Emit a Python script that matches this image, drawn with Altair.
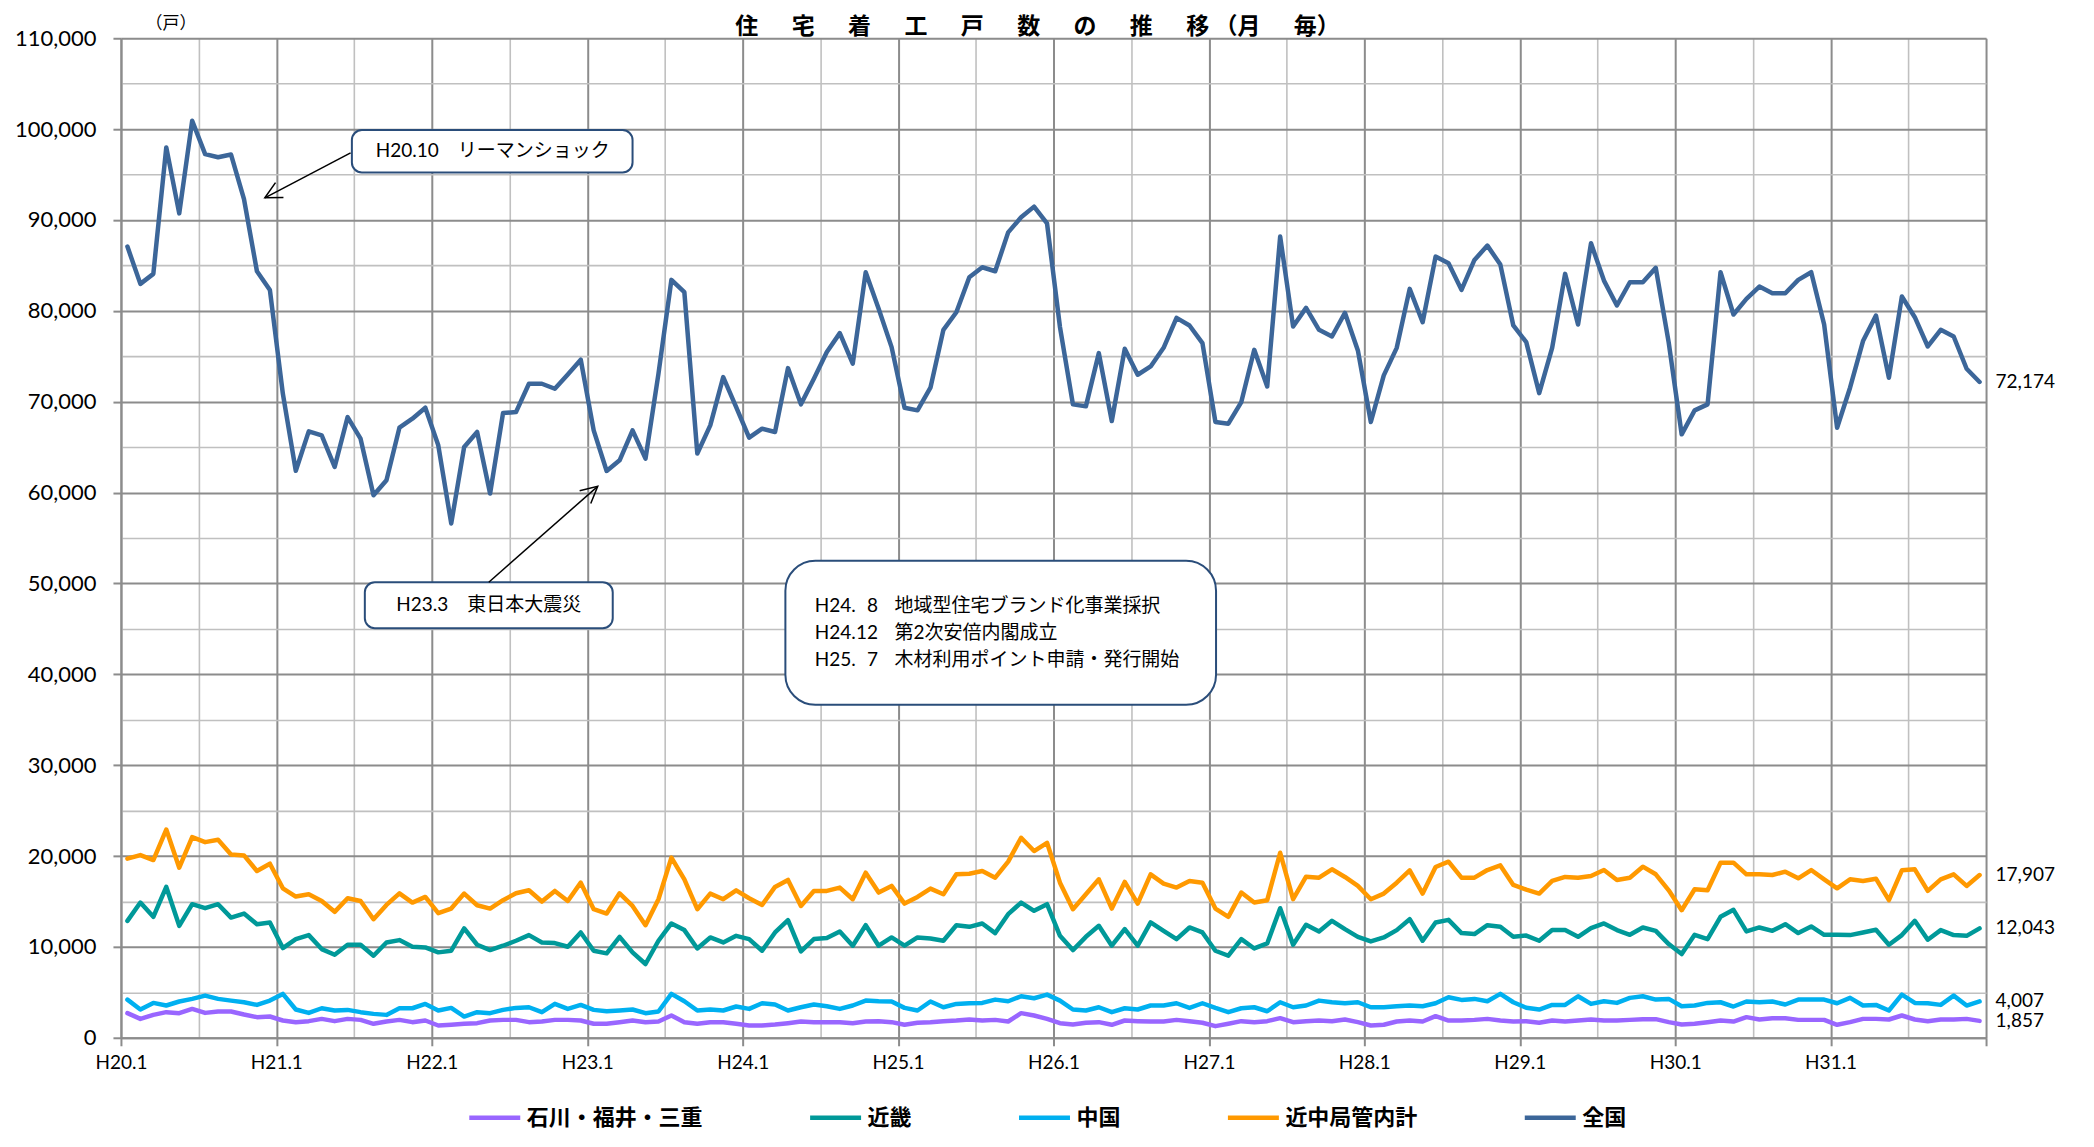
import json
import altair as alt
import pandas as pd

# ---------------- data ----------------
series_names = ["石川・福井・三重", "近畿", "中国", "近中局管内計", "全国"]
series_colors = ["#9966ff", "#009999", "#00b0f0", "#ff9900", "#3c6699"]
series_widths = [4.5, 4.5, 4.5, 4.5, 5.5]

x_tick_labels = ["H20.1", "H21.1", "H22.1", "H23.1", "H24.1", "H25.1",
                 "H26.1", "H27.1", "H28.1", "H29.1", "H30.1", "H31.1"]

# monthly values, H20.1 (Jan 2008) ... H31.12 (Dec 2019)
ishikawa = [
    2710, 2080, 2520, 2820, 2710, 3180, 2740, 2890, 2890, 2560, 2270, 2340,
    1900, 1720, 1830, 2080, 1830, 2080, 1970, 1540, 1790, 1970, 1720, 1900,
    1350, 1430, 1540, 1610, 1900, 1970, 1970, 1720, 1790, 1970, 1970, 1900,
    1540, 1540, 1720, 1900, 1720, 1790, 2450, 1720, 1540, 1720, 1720, 1540,
    1350, 1350, 1460, 1610, 1790, 1720, 1720, 1720, 1610, 1790, 1830, 1720,
    1430, 1650, 1720, 1830, 1900, 2010, 1900, 1970, 1790, 2710, 2450, 2080,
    1610, 1460, 1650, 1720, 1430, 1900, 1830, 1790, 1790, 1970, 1830, 1650,
    1280, 1540, 1830, 1720, 1830, 2160, 1720, 1830, 1900, 1830, 2010, 1720,
    1350, 1430, 1790, 1900, 1790, 2380, 1900, 1900, 1970, 2080, 1900, 1790,
    1810, 1650, 1900, 1790, 1900, 2010, 1900, 1900, 1970, 2050, 2050, 1720,
    1460, 1540, 1720, 1900, 1790, 2270, 2010, 2160, 2160, 1970, 1970, 1970,
    1430, 1720, 2080, 2080, 2010, 2450, 2010, 1830, 2010, 2010, 2080, 1857,
]
kinki = [
    12870, 14880, 13310, 16600, 12320, 14700, 14260, 14700, 13230, 13670, 12500, 12690,
    9870, 10860, 11300, 9760, 9140, 10240, 10240, 9030, 10490, 10750, 10020, 9940,
    9400, 9580, 12030, 10240, 9650, 10130, 10680, 11300, 10490, 10420, 10020, 11590,
    9580, 9290, 11110, 9400, 8120, 10680, 12580, 11850, 9830, 11040, 10490, 11220,
    10860, 9580, 11590, 12940, 9510, 10860, 10970, 11700, 10130, 12390, 10130, 11040,
    10130, 11040, 10930, 10680, 12390, 12210, 12580, 11520, 13600, 14880, 13970, 14700,
    11220, 9650, 11110, 12320, 10130, 11960, 10130, 12690, 11770, 10860, 12140, 11590,
    9580, 9030, 10860, 9830, 10380, 14260, 10240, 12430, 11700, 12870, 11960, 11110,
    10600, 11040, 11850, 13050, 10680, 12690, 12980, 11520, 11410, 12390, 12210, 11110,
    11250, 10680, 11850, 11850, 11110, 12060, 12580, 11850, 11330, 12140, 11770, 10310,
    9210, 11330, 10860, 13310, 14080, 11700, 12140, 11770, 12500, 11520, 12250, 11330,
    11330, 11300, 11590, 11880, 10240, 11300, 12870, 10790, 11850, 11300, 11220, 12043,
]
chugoku = [
    4200, 3110, 3840, 3550, 3990, 4280, 4640, 4280, 4090, 3910, 3620, 4090,
    4830, 3110, 2740, 3250, 3000, 3070, 2820, 2630, 2520, 3250, 3250, 3730,
    3000, 3290, 2340, 2820, 2710, 3070, 3290, 3360, 2820, 3730, 3180, 3620,
    3070, 2920, 3000, 3110, 2710, 2890, 4830, 4020, 3000, 3110, 3000, 3440,
    3180, 3800, 3660, 3000, 3360, 3660, 3470, 3180, 3550, 4090, 4020, 3990,
    3290, 3000, 3990, 3360, 3730, 3800, 3840, 4200, 4020, 4570, 4350, 4750,
    4090, 3110, 3000, 3360, 2820, 3250, 3110, 3550, 3550, 3800, 3290, 3800,
    3290, 2820, 3250, 3360, 2920, 3910, 3360, 3550, 4090, 3910, 3800, 3910,
    3360, 3360, 3470, 3550, 3470, 3800, 4460, 4170, 4280, 4020, 4830, 3910,
    3300, 3110, 3620, 3620, 4570, 3730, 4020, 3840, 4390, 4570, 4200, 4280,
    3470, 3550, 3840, 3910, 3440, 3990, 3910, 3990, 3660, 4200, 4200, 4200,
    3800, 4390, 3550, 3620, 3000, 4750, 3840, 3800, 3620, 4640, 3550, 4007,
]
kinchu = [
    19710, 20110, 19560, 22920, 18720, 22080, 21530, 21790, 20180, 20070, 18350, 19160,
    16450, 15540, 15790, 15060, 13860, 15360, 15060, 13050, 14620, 15900, 14880, 15500,
    13710, 14220, 15870, 14590, 14220, 15140, 15900, 16230, 14990, 16160, 15060, 17070,
    14150, 13670, 15900, 14510, 12390, 15250, 19820, 17440, 14150, 15870, 15250, 16230,
    15360, 14620, 16600, 17370, 14510, 16160, 16160, 16530, 15250, 18170, 15980, 16710,
    14770, 15500, 16420, 15790, 17990, 18060, 18350, 17620, 19380, 22010, 20550, 21460,
    17070, 14150, 15790, 17440, 14220, 17150, 14770, 17990, 16960, 16530, 17260, 17070,
    14220, 13310, 15980, 14880, 15140, 20360, 15250, 17730, 17620, 18540, 17700, 16710,
    15250, 15870, 17070, 18430, 15870, 18790, 19380, 17620, 17620, 18460, 18970, 16820,
    16300, 15870, 17260, 17700, 17620, 17800, 18460, 17370, 17620, 18830, 17990, 16230,
    14040, 16340, 16230, 19270, 19270, 17990, 17990, 17910, 18280, 17550, 18460, 17440,
    16450, 17440, 17260, 17510, 15140, 18430, 18540, 16160, 17440, 17990, 16710, 17907,
]
zenkoku = [
    87070, 82970, 84070, 97990, 90730, 100920, 97250, 96900, 97200, 92300, 84360, 82300,
    70880, 62400, 66740, 66300, 62820, 68300, 65930, 59700, 61350, 67140, 68130, 69340,
    65200, 56600, 65020, 66670, 59890, 68750, 68860, 71980, 71980, 71430, 73000, 74620,
    66850, 62380, 63550, 66850, 63740, 73080, 83410, 82050, 64300, 67400, 72710, 69410,
    66040, 67030, 66670, 73700, 69710, 72530, 75460, 77550, 74180, 84250, 80220, 76010,
    69340, 69050, 71540, 77910, 79850, 83700, 84800, 84360, 88640, 90300, 91470, 89630,
    78210, 69710, 69490, 75350, 67880, 75820, 72970, 73880, 75930, 79230, 78390, 76450,
    67770, 67580, 69960, 75710, 71680, 88170, 78280, 80330, 77910, 77180, 79780, 75640,
    67770, 72900, 75930, 82420, 78750, 85970, 85240, 82310, 85600, 87180, 85090, 78390,
    76560, 70950, 75930, 84070, 78500, 87440, 83330, 80590, 83150, 83150, 84730, 76500,
    66410, 69050, 69710, 84250, 79600, 81320, 82670, 81940, 81940, 83410, 84250, 78500,
    67140, 71540, 76670, 79490, 72640, 81580, 79300, 76080, 77910, 77180, 73630, 72174,
]

title_text = "住 　 宅 　 着 　 工 　 戸 　 数 　 の 　 推 　 移 （月 　 毎）"
unit_text = "（戸）"

box_notes = ["H20.10　リーマンショック", "H23.3　東日本大震災"]
policy_dates = ["H24.", "H24.", "H25."]
policy_months = ["8", "12", "7"]
policy_events = ["地域型住宅ブランド化事業採択", "第2次安倍内閣成立", "木材利用ポイント申請・発行開始"]

# ---------------- tables ----------------
all_series = [ishikawa, kinki, chugoku, kinchu, zenkoku]
rows = []
for name, vals in zip(series_names, all_series):
    for i, v in enumerate(vals):
        rows.append({"series": name, "x": i + 0.5, "y": v})
df = pd.DataFrame(rows)

end_df = pd.DataFrame({
    "x": [len(v) - 0.5 for v in all_series],
    "y": [v[-1] for v in all_series],
    "label": [f"{v[-1]:,}" for v in all_series],
})

N_MONTHS = 144
Y_MAX = 110000

LATIN = "Lato, 'Noto Sans CJK JP'"
CJK = "'Noto Sans CJK JP'"
GRID_DARK = "#8c8c8c"
GRID_LIGHT = "#c0c0c0"
BOX_BLUE = "#2a4d7a"

label_arr = json.dumps(x_tick_labels)
x_axis = alt.Axis(
    values=list(range(0, N_MONTHS + 1, 6)),
    labelExpr=f"datum.value % 12 === 0 && datum.value < {N_MONTHS} ? {label_arr}[datum.value / 12] : ''",
    title=None,
    grid=True,
    gridColor={"condition": {"test": "datum.value % 12 === 0", "value": GRID_DARK}, "value": GRID_LIGHT},
    gridWidth={"condition": {"test": "datum.value % 12 === 0", "value": 2}, "value": 1.6},
    tickColor={"condition": {"test": "datum.value % 12 === 0", "value": GRID_DARK}, "value": "transparent"},
    tickSize=8, tickWidth=2,
    domainColor=GRID_DARK, domainWidth=2,
    labelFont=LATIN, labelFontSize=19, labelColor="#000000", labelPadding=8,
    labelFlush=False, labelOverlap=False,
)
y_axis = alt.Axis(
    values=list(range(0, Y_MAX + 1, 5000)),
    labelExpr="datum.value % 10000 === 0 ? format(datum.value, ',') : ''",
    title=None,
    grid=True,
    gridColor={"condition": {"test": "datum.value % 10000 === 0", "value": GRID_DARK}, "value": GRID_LIGHT},
    gridWidth={"condition": {"test": "datum.value % 10000 === 0", "value": 2}, "value": 1.6},
    tickColor={"condition": {"test": "datum.value % 10000 === 0", "value": GRID_DARK}, "value": "transparent"},
    tickSize=8, tickWidth=2,
    domainColor=GRID_DARK, domainWidth=2,
    labelFont=LATIN, labelFontSize=22, labelColor="#000000", labelPadding=17,
    labelOverlap=False,
)

x_scale = alt.Scale(domain=[0, N_MONTHS], nice=False, zero=False)
y_scale = alt.Scale(domain=[0, Y_MAX], nice=False)

lines = alt.Chart(df).mark_line(strokeJoin="round", strokeCap="round").encode(
    x=alt.X("x:Q", scale=x_scale, axis=x_axis),
    y=alt.Y("y:Q", scale=y_scale, axis=y_axis),
    color=alt.Color(
        "series:N",
        scale=alt.Scale(domain=series_names, range=series_colors),
        legend=alt.Legend(
            orient="none", legendX=346, legendY=1052, direction="horizontal",
            columns=5, title=None, symbolType="stroke", symbolSize=2600,
            symbolStrokeWidth=5, labelFont=CJK, labelFontSize=22,
            labelFontWeight="bold", labelColor="#000000", columnPadding=97,
            labelOffset=4, labelLimit=400,
        ),
    ),
    strokeWidth=alt.StrokeWidth(
        "series:N", scale=alt.Scale(domain=series_names, range=series_widths), legend=None
    ),
)

end_labels = alt.Chart(end_df).mark_text(
    align="left", baseline="middle", dx=16, font=LATIN, fontSize=19, color="#000000"
).encode(x="x:Q", y="y:Q", text="label:N")

# ---- annotations (positions in data units: months / 戸) ----
small_boxes = pd.DataFrame({
    "x": [17.83, 18.83], "x2": [39.5, 37.97],
    "y": [99900, 50130], "y2": [95230, 45070],
})
box_small = alt.Chart(small_boxes).mark_rect(
    cornerRadius=10, fill="#ffffff", stroke=BOX_BLUE, strokeWidth=2
).encode(x="x:Q", x2="x2:Q", y="y:Q", y2="y2:Q")

big_box = pd.DataFrame({"x": [51.3], "x2": [84.55], "y": [52500], "y2": [36650]})
box_big = alt.Chart(big_box).mark_rect(
    cornerRadius=30, fill="#ffffff", stroke=BOX_BLUE, strokeWidth=2
).encode(x="x:Q", x2="x2:Q", y="y:Q", y2="y2:Q")

box_text_df = pd.DataFrame({"x": [28.7, 28.4], "y": [97560, 47600], "t": box_notes})
box_text = alt.Chart(box_text_df).mark_text(
    align="center", baseline="middle", font=LATIN, fontSize=19, color="#000000"
).encode(x="x:Q", y="y:Q", text="t:N")

line_ys = [47500, 44550, 41600]
pol_left = pd.DataFrame({
    "x": [53.56] * 3 + [59.73] * 3,
    "y": line_ys + line_ys,
    "t": policy_dates + policy_events,
})
pol_left_text = alt.Chart(pol_left).mark_text(
    align="left", baseline="middle", font=LATIN, fontSize=19, color="#000000"
).encode(x="x:Q", y="y:Q", text="t:N")
pol_right = pd.DataFrame({"x": [58.45] * 3, "y": line_ys, "t": policy_months})
pol_right_text = alt.Chart(pol_right).mark_text(
    align="right", baseline="middle", font=LATIN, fontSize=19, color="#000000"
).encode(x="x:Q", y="y:Q", text="t:N")

arrows = pd.DataFrame({
    "x": [17.73, 28.4], "y": [97390, 50130],
    "x2": [11.11, 36.81], "y2": [92440, 60690],
    "angle": [242, 49],
})
arrow_lines = alt.Chart(arrows).mark_rule(color="#000000", strokeWidth=1.5).encode(
    x="x:Q", y="y:Q", x2="x2:Q", y2="y2:Q"
)
arrow_heads = alt.Chart(arrows).mark_point(
    shape="M-0.51,1L0,0L0.51,1", filled=False, size=1100, strokeWidth=1.5, color="#000000", opacity=1
).encode(x="x2:Q", y="y2:Q", angle=alt.Angle("angle:Q", scale=None))

title_mark = alt.Chart(pd.DataFrame({"t": [title_text]})).mark_text(
    align="center", baseline="alphabetic", font=CJK, fontSize=23, fontWeight="bold", color="#000000"
).encode(text="t:N", x=alt.value(917), y=alt.value(-4))

unit_mark = alt.Chart(pd.DataFrame({"t": [unit_text]})).mark_text(
    align="center", baseline="alphabetic", font=CJK, fontSize=17, color="#000000"
).encode(text="t:N", x=alt.value(50), y=alt.value(-9))

chart = alt.layer(
    lines, box_small, box_big, arrow_lines, arrow_heads, box_text,
    pol_left_text, pol_right_text, end_labels, title_mark, unit_mark,
).properties(
    width=1866, height=1000,
    autosize=alt.AutoSizeParams(type="none"),
    padding={"left": 113, "top": 30, "right": 100, "bottom": 94},
).configure_view(stroke=None).configure(background="#ffffff")

chart.save("out.html", embed_options={"renderer": "svg", "actions": False})
